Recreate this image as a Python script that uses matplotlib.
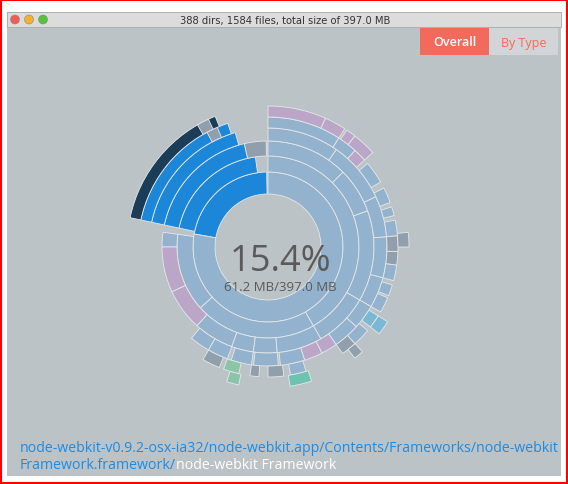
import matplotlib
matplotlib.use("Agg")
import matplotlib.pyplot as plt
from matplotlib.patches import Wedge, Rectangle, Circle

W, H = 568, 485
LB, BL, DK, GR, PK, TL, GN = "#93b2cd", "#1c87d8", "#1b3d58", "#909fab", "#bba6c8", "#7ab8d4", "#8cc4aa"

# ring radii (px)
radii = [53, 75, 91, 106, 119, 130, 141]

# segments per ring: (start_deg, end_deg, colour)
ring0 = [(91, 170, BL), (170, 450, LB)]
ring1 = [(98, 168, BL), (172, 222, LB), (222, 300, LB), (300, 450, LB)]
ring2 = [(91, 103, GR), (103, 168, BL), (172, 180, LB), (180, 205, PK), (205, 228, PK), (228, 250, LB),
         (250, 262, LB), (262, 275, LB), (275, 300, LB), (300, 330, LB), (330, 20, LB), (20, 45, LB), (45, 90, LB)]
ring3 = [(106, 168, BL), (230, 240, LB), (240, 250, LB), (252, 262, LB), (263, 275, LB), (276, 288, LB),
         (288, 297, PK), (297, 305, PK), (305, 318, LB), (318, 330, LB), (330, 345, LB), (345, 5, LB),
         (5, 25, LB), (25, 55, LB), (55, 90, LB)]
ring4 = [(108, 168, BL), (113, 118, GR), (240, 248, GR), (250, 257, GN), (262, 266, GR), (270, 277, GR),
         (280, 287, LB), (305, 312, GR), (312, 320, LB), (322, 328, TL), (330, 337, LB), (338, 343, LB),
         (345, 352, LB), (352, 358, GR), (358, 5, GR), (5, 12, LB), (14, 18, LB), (20, 27, LB),
         (30, 40, LB), (42, 48, PK), (48, 57, LB), (57, 90, LB)]
ring5 = [(112, 168, DK), (115, 120, GR), (253, 258, GN), (279, 288, "#6cc4b0"), (0, 6, GR),
         (42, 52, PK), (52, 56, PK), (57, 66, PK), (66, 90, PK), (322, 328, TL), (308, 312, GR)]
rings = [ring0, ring1, ring2, ring3, ring4, ring5]

pct_text = "15.4%"
size_text = "61.2 MB/397.0 MB"
title = "388 dirs, 1584 files, total size of 397.0 MB"
path1 = "node-webkit-v0.9.2-osx-ia32/node-webkit.app/Contents/Frameworks/node-webkit"
path2a = "Framework.framework/"
path2b = "node-webkit Framework"

fig = plt.figure(figsize=(W / 100, H / 100), dpi=100)
ax = fig.add_axes([0, 0, 1, 1])
ax.set_xlim(0, W); ax.set_ylim(H, 0); ax.axis("off")
fig.patch.set_facecolor("white")

# window
ax.add_patch(Rectangle((7, 13), W - 14, H - 21, facecolor="#bcc3c6", edgecolor="none"))
ax.add_patch(Rectangle((7, 13), W - 14, 15, facecolor="#dcdcdc", edgecolor="#a9a9a9", lw=0.6))
ax.add_patch(Rectangle((1, 1), W - 2, H - 2, facecolor="none", edgecolor="#ff0000", lw=1.5))
for x, c in zip([15, 29, 43], ["#f45b55", "#f5b12c", "#55c23c"]):
    ax.add_patch(Circle((x, 20.5), 4.5, facecolor=c, edgecolor="#888", lw=0.4))
ax.text(285, 21, title, ha="center", va="center", fontsize=7.2, color="#333")
ax.add_patch(Rectangle((420, 29), 69, 27, facecolor="#f26a5b", edgecolor="none"))
ax.add_patch(Rectangle((489, 29), 69, 27, facecolor="#d2d5d7", edgecolor="none"))
ax.text(454.5, 43, "Overall", ha="center", va="center", fontsize=9, color="white", family="Open Sans", weight="semibold")
ax.text(523.5, 43, "By Type", ha="center", va="center", fontsize=9, color="#f26a5b", family="Open Sans")

# sunburst (y axis inverted -> negate angles)
cx, cy = 268, 248
for i, ring in enumerate(rings):
    r_in, r_out = radii[i], radii[i + 1]
    for a0, a1, col in ring:
        if a1 < a0:
            a1 += 360
        ax.add_patch(Wedge((cx, cy), r_out, -a1, -a0, width=r_out - r_in,
                           facecolor=col, edgecolor="#e4e8ea", lw=0.6))

ax.text(280, 262, pct_text, ha="center", va="center", fontsize=26, color="#5a5a5a", family="Open Sans")
ax.text(280, 288, size_text, ha="center", va="center", fontsize=9.5, color="#5a5a5a", family="Open Sans")

ax.text(20, 449, path1, ha="left", va="center", fontsize=10.2, color="#1f8be0", family="Open Sans")
t = ax.text(20, 466, path2a, ha="left", va="center", fontsize=10.2, color="#1f8be0", family="Open Sans")
fig.canvas.draw()
bb = t.get_window_extent()
ax.text(bb.x1, 466, path2b, ha="left", va="center", fontsize=10.2, color="white", family="Open Sans")

fig.savefig("out.png", dpi=100)
